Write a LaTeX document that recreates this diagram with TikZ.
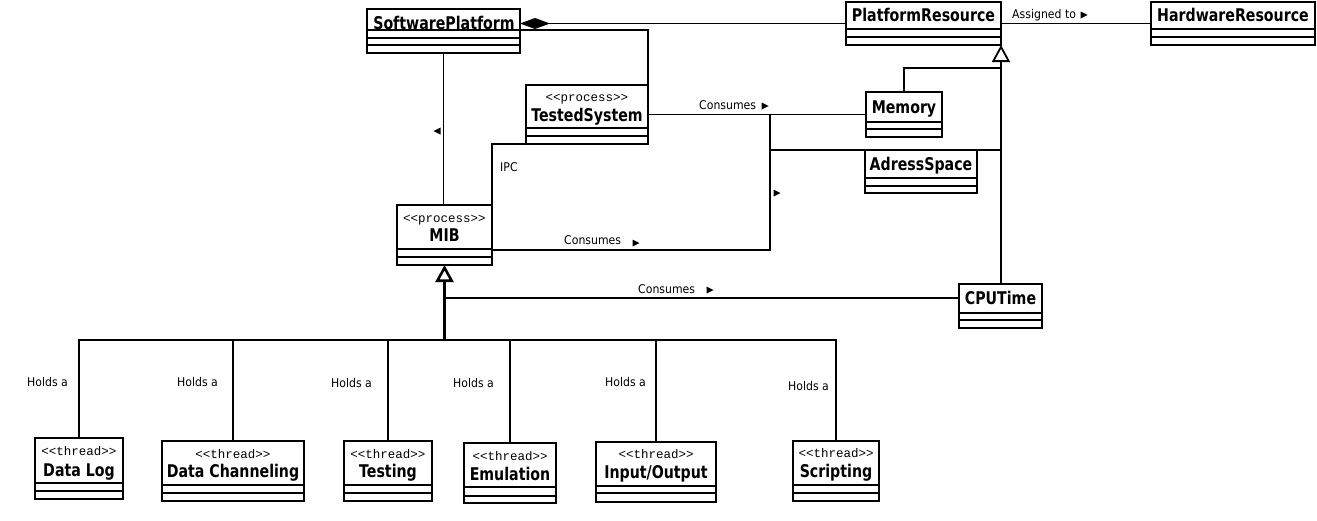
\documentclass[tikz,border=0pt]{standalone}
\usepackage{fontspec}
\setmainfont{DejaVu Sans}
\newfontfamily\lblfont[FakeStretch=0.91]{DejaVu Sans}
\newfontfamily\namefont[FakeStretch=0.81]{DejaVu Sans}
\newfontfamily\stfont{Liberation Mono}
\usetikzlibrary{arrows.meta,calc}
\tikzset{
  ln/.style={line width=1.8pt},
  box/.style={draw, line width=1.8pt, rectangle, inner sep=0pt, outer sep=0pt, anchor=north west},
  nm/.style={font=\namefont\bfseries\fontsize{17.5}{17.5}\selectfont, inner sep=0pt, anchor=base},
  st/.style={font=\stfont\fontsize{12.5}{12.5}\selectfont, inner sep=0pt, anchor=base},
  lb/.style={font=\lblfont\fontsize{12}{12}\selectfont, inner sep=0pt, anchor=base west},
  gen/.style={ln, -{Triangle[open, length=17pt, width=18pt, fill=white]}},
  comp/.style={ln, {Diamond[length=30pt, width=11pt]}-},
}
\newcommand\umlbox[7]{%
  \node[box, minimum width={(#4-#2)*1pt}, minimum height={(#5-#3)*1pt}] (#1) at (#2,#3) {};
  \draw[ln] (#2,#6) -- (#4,#6) (#2,#7) -- (#4,#7);
}
\newcommand\trir[2]{\fill (#1-3.5,#2-3.5) -- (#1+3.5,#2) -- (#1-3.5,#2+3.5) -- cycle;}
\newcommand\tril[2]{\fill (#1+3.5,#2-3.5) -- (#1-3.5,#2) -- (#1+3.5,#2+3.5) -- cycle;}
\begin{document}
\begin{tikzpicture}[x=1pt,y=-1pt]
\fill[white] (0,0) rectangle (1317,520);
\useasboundingbox (0,0) rectangle (1317,520);

% classes
\umlbox{sp}{367}{9}{520}{53}{30}{38}
\draw[ln] (367,45) -- (520,45);
\node[nm] (spn) at (444,29) {SoftwarePlatform};

\umlbox{pr}{846}{2}{1001}{45}{29}{37}
\node[nm] (prn) at (923.5,21) {PlatformResource};

\umlbox{hr}{1151}{2}{1315}{45}{29}{37}
\node[nm] (hrn) at (1233,21) {HardwareResource};

\umlbox{ts}{526}{85}{648}{144}{128}{136}
\node[st] (tss) at (587,101) {<\kern0pt<process>\kern0pt>};
\node[nm] (tsn) at (587,121) {TestedSystem};

\umlbox{mem}{866}{92}{942}{137}{122}{129}
\node[nm] (memn) at (904,113) {Memory};

\umlbox{as}{865}{150}{977}{193}{178}{186}
\node[nm] (asn) at (921,170) {AdressSpace};

\umlbox{mib}{397}{205}{492}{265}{249}{257}
\node[st] (mibs) at (444.5,222) {<\kern0pt<process>\kern0pt>};
\node[nm] (mibn) at (444.5,241) {MIB};

\umlbox{cpu}{959}{284}{1042}{328}{313}{320}
\node[nm] (cpun) at (1000.5,304) {CPUTime};

\umlbox{dl}{35}{438}{123}{499}{483}{491}
\node[st] (dls) at (79,455) {<\kern0pt<thread>\kern0pt>};
\node[nm] (dln) at (79,476) {Data Log};

\umlbox{dc}{162}{441}{304}{501}{485}{493}
\node[st] (dcs) at (233,458) {<\kern0pt<thread>\kern0pt>};
\node[nm] (dcn) at (233,477) {Data Channeling};

\umlbox{te}{344}{441}{432}{501}{485}{493}
\node[st] (tes) at (388,458) {<\kern0pt<thread>\kern0pt>};
\node[nm] (ten) at (388,477) {Testing};

\umlbox{em}{464}{443}{556}{503}{487}{496}
\node[st] (ems) at (510,460) {<\kern0pt<thread>\kern0pt>};
\node[nm] (emn) at (510,480) {Emulation};

\umlbox{io}{596}{442}{716}{502}{486}{493}
\node[st] (ios) at (656,458) {<\kern0pt<thread>\kern0pt>};
\node[nm] (ion) at (656,478) {Input/Output};

\umlbox{sc}{793}{441}{879}{501}{485}{493}
\node[st] (scs) at (836,457) {<\kern0pt<thread>\kern0pt>};
\node[nm] (scn) at (836,477) {Scripting};

% connectors
\draw[comp] (pr.west -| sp.east) -- (pr.west);
\draw[ln] (pr.east) -- (hr.west);
\draw[ln] ($(sp.north east)+(0,21)$) -| (ts.north east);
\draw[ln] (sp.south) -- (sp.south |- mib.north);
\draw[ln] (ts.east) -- (mem.west);
\coordinate (j1) at (770,114.5);
\coordinate (j2) at (770,250);
\draw[ln] (j1) -- (j2) -- (j2 -| mib.east);
\draw[ln] (j1 |- as.north) -- (as.north -| pr.south east);
\draw[gen] (cpu.north -| pr.south east) -- (pr.south east);
\draw[ln] (mem.north) |- ($(pr.south east)+(0,23)$);
\coordinate (c1) at ($(cpu.north west)+(0,14)$);
\draw[ln] (c1) -- (c1 -| mib.south);
\coordinate (bus) at ($(mib.south)+(0,75)$);
\foreach \t in {dl,dc,te,em,io,sc} \draw[ln] (\t.north) |- (bus);
\draw[gen, line width=2.6pt] (bus) -- (mib.south);
\draw[ln] (mib.north east) |- (ts.south);

% labels
\node[lb] (l1) at (699,109) {Consumes};
\node[lb] (l2) at (564,244) {Consumes};
\node[lb] (l3) at (638,293) {Consumes};
\node[lb] (l4) at (1012,18) {Assigned to};
\node[lb] (l5) at (500,171) {IPC};
\node[lb] (h1) at (27,386) {Holds a};
\node[lb] (h2) at (177,386) {Holds a};
\node[lb] (h3) at (331,387) {Holds a};
\node[lb] (h4) at (453,387) {Holds a};
\node[lb] (h5) at (605,386) {Holds a};
\node[lb] (h6) at (788,390) {Holds a};
\trir{765}{106}
\trir{636}{243}
\trir{710}{290}
\trir{1084}{15}
\trir{777}{193}
\tril{437}{131}
\end{tikzpicture}
\end{document}
